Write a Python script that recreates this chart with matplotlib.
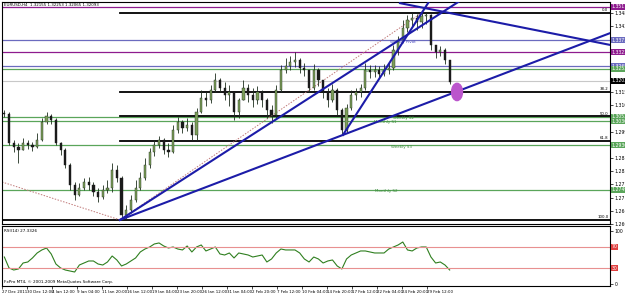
"""
EURUSD H4 chart with pivots, fibo levels, trend lines and RSI(14)
"""

import matplotlib.pyplot as plt
from matplotlib.patches import Ellipse
import numpy as np

# 12h candles (27 Dec 2011 .. 1 Mar 2012)
closes = [1.3065, 1.2944, 1.2928, 1.2915, 1.2944, 1.2936, 1.2928, 1.2957, 1.3032, 1.3057,
          1.3040, 1.2944, 1.2915, 1.2853, 1.2769, 1.2728, 1.2757, 1.2782, 1.2769, 1.2740,
          1.2720, 1.2749, 1.2757, 1.2832, 1.2799, 1.2645, 1.2665, 1.2707, 1.2757, 1.2799,
          1.2853, 1.2907, 1.2936, 1.2957, 1.2915, 1.2907, 1.2999, 1.3032, 1.3007, 1.3019,
          1.2978, 1.3074, 1.3132, 1.3123, 1.3165, 1.3207, 1.3173, 1.3144, 1.3157, 1.3074,
          1.3123, 1.3173, 1.3144, 1.3123, 1.3157, 1.3123, 1.3082, 1.3061, 1.3165, 1.3248,
          1.3265, 1.3282, 1.3290, 1.3257, 1.3248, 1.3173, 1.3248, 1.3207, 1.3157, 1.3123,
          1.3165, 1.3082, 1.2999, 1.3090, 1.3144, 1.3157, 1.3173, 1.3248, 1.3240, 1.3248,
          1.3232, 1.3248, 1.3257, 1.3332, 1.3373, 1.3423, 1.3457, 1.3465, 1.3448, 1.3473,
          1.3478, 1.3353, 1.3323, 1.3332, 1.3290, 1.3198]
highs = [1.3082, 1.3074, 1.2957, 1.2944, 1.2965, 1.2957, 1.2949, 1.2986, 1.3049, 1.3074,
         1.3065, 1.3049, 1.2949, 1.2924, 1.2861, 1.2782, 1.2778, 1.2799, 1.2803, 1.2782,
         1.2757, 1.2769, 1.2790, 1.2861, 1.2853, 1.2807, 1.2686, 1.2728, 1.2790, 1.2824,
         1.2882, 1.2924, 1.2957, 1.2974, 1.2965, 1.2944, 1.3019, 1.3053, 1.3040, 1.3049,
         1.3032, 1.3090, 1.3165, 1.3157, 1.3186, 1.3236, 1.3215, 1.3198, 1.3186, 1.3157,
         1.3132, 1.3207, 1.3190, 1.3173, 1.3182, 1.3165, 1.3132, 1.3103, 1.3186, 1.3269,
         1.3298, 1.3307, 1.3323, 1.3298, 1.3278, 1.3248, 1.3273, 1.3257, 1.3207, 1.3173,
         1.3190, 1.3173, 1.3090, 1.3107, 1.3165, 1.3173, 1.3190, 1.3278, 1.3269, 1.3269,
         1.3265, 1.3273, 1.3282, 1.3353, 1.3390, 1.3457, 1.3478, 1.3486, 1.3480, 1.3486,
         1.3484, 1.3482, 1.3353, 1.3348, 1.3340, 1.3290]
lows = [1.3053, 1.2936, 1.2907, 1.2861, 1.2915, 1.2919, 1.2911, 1.2924, 1.2953, 1.3024,
        1.3024, 1.2936, 1.2894, 1.2840, 1.2749, 1.2707, 1.2724, 1.2749, 1.2749, 1.2724,
        1.2699, 1.2711, 1.2736, 1.2740, 1.2782, 1.2624, 1.2628, 1.2653, 1.2699, 1.2749,
        1.2790, 1.2840, 1.2890, 1.2924, 1.2899, 1.2886, 1.2903, 1.2986, 1.2986, 1.2994,
        1.2957, 1.2957, 1.3069, 1.3099, 1.3111, 1.3157, 1.3157, 1.3123, 1.3099, 1.3040,
        1.3049, 1.3123, 1.3115, 1.3094, 1.3107, 1.3094, 1.3049, 1.3028, 1.3049, 1.3157,
        1.3236, 1.3248, 1.3261, 1.3236, 1.3223, 1.3157, 1.3165, 1.3182, 1.3132, 1.3094,
        1.3115, 1.3061, 1.2982, 1.2986, 1.3082, 1.3123, 1.3136, 1.3165, 1.3215, 1.3219,
        1.3215, 1.3223, 1.3232, 1.3248, 1.3311, 1.3365, 1.3407, 1.3432, 1.3415, 1.3423,
        1.3440, 1.3332, 1.3298, 1.3307, 1.3273, 1.3190]
first_open = 1.3069

rsi = [50.9, 30.2, 26.4, 28.3, 39.6, 41.5, 49.1, 58.5, 64.2, 67.9,
       56.6, 37.7, 30.2, 26.4, 24.5, 22.6, 35.8, 39.6, 43.4, 43.4,
       37.7, 35.8, 41.5, 52.8, 45.3, 34.0, 37.7, 43.4, 49.1, 60.4,
       66.0, 69.8, 75.5, 77.4, 71.7, 67.9, 69.8, 66.0, 64.2, 71.7,
       60.4, 69.8, 73.6, 62.3, 66.0, 69.8, 56.6, 54.7, 58.5, 49.1,
       58.5, 56.6, 54.7, 50.9, 52.8, 54.7, 41.5, 47.2, 58.5, 66.0,
       64.2, 64.2, 64.2, 58.5, 47.2, 41.5, 50.9, 47.2, 39.6, 43.4,
       45.3, 34.0, 28.3, 47.2, 54.7, 58.5, 62.3, 62.3, 60.4, 58.5,
       58.5, 58.5, 66.0, 69.8, 73.6, 79.2, 64.2, 62.3, 67.9, 69.8,
       69.8, 50.9, 39.6, 41.5, 35.8, 26.4]

date_labels = ["27 Dec 2011", "30 Dec 12:00", "4 Jan 12:00", "9 Jan 04:00", "11 Jan 20:00",
               "16 Jan 12:00", "19 Jan 04:00", "23 Jan 20:00", "26 Jan 12:00", "31 Jan 04:00",
               "2 Feb 20:00", "7 Feb 12:00", "10 Feb 04:00", "14 Feb 20:00", "17 Feb 12:00",
               "22 Feb 04:00", "24 Feb 20:00", "29 Feb 12:00"]

# pivot levels
pivot_prices = [1.3511, 1.3373, 1.3323, 1.3265, 1.3253, 1.3053, 1.3036, 1.2936, 1.2749]
pivot_kinds = ["mr", "wp", "mr", "mp", "s", "s", "s", "s", "s"]
pivot_names = {1.3373: "Weekly Pivot", 1.3253: "Weekly S1", 1.3053: "Weekly S2",
               1.3036: "Monthly S1", 1.2936: "Weekly S3", 1.2749: "Monthly S2"}
bid = 1.3203

fibo_low, fibo_high = 1.2624, 1.3486
fibo_levels = [0.0, 38.2, 50.0, 61.8, 100.0]

# trend lines as (bar, price) anchors, H4 bar units
trend_lines = [((75.5, 1.2624), (210.0, 1.3188)),
               ((75.5, 1.2624), (218.2, 1.2978)),
               ((218.2, 1.2978), (267.5, 1.3475))]
down_line = ((254.7, 1.3527), (389.1, 1.3353))
fibo_trend = [((0.0, 1.2782), (75.5, 1.2624)), ((75.5, 1.2624), (268.5, 1.3486))]
target = (291.2, 1.3157)

##########################
# PLOT
##########################
W, H = 625, 293
fig = plt.figure(figsize=(W / 100, H / 100), dpi=100)
fig.patch.set_facecolor("white")

def box(top, bottom, left=2, right=610):
    return [left / W, 1 - bottom / H, (right - left) / W, (bottom - top) / H]

ax = fig.add_axes(box(2, 224))
ax2 = fig.add_axes(box(226, 286))
xmax = 389.1

colors = {"mr": "#8e1b8e", "wp": "#6b6bbf", "mp": "#6b6bbf", "s": "#5aa55a"}
fs = 3.3

for a in (ax, ax2):
    a.set_xlim(0, xmax)
    for s in a.spines.values():
        s.set_linewidth(0.8)
    a.yaxis.tick_right()
    a.tick_params(axis="y", labelsize=fs, length=2, width=0.5, pad=1.5)

ax.set_ylim(1.2607, 1.35317)
ax.set_xticks([])
# scale ticks, skipping the ones hidden under the coloured price boxes
marked = pivot_prices + [bid]
yt = [v for v in np.arange(1.2607, 1.3535, 0.0055)
      if min(abs(v - m) for m in marked) > 0.0016]
ax.set_yticks(yt)
ax.set_yticklabels(["%.5f" % v for v in yt])

# pivot lines + labels on the scale
for p, k in zip(pivot_prices, pivot_kinds):
    ax.axhline(p, color=colors[k], lw=0.9, zorder=1)
ax.axhline(bid, color="#c8c8c8", lw=0.8, zorder=1)
for p, k in zip(pivot_prices + [bid], pivot_kinds + ["bid"]):
    fc = "black" if k == "bid" else colors[k]
    ax.text(xmax + 1.2, p, "%.5f" % p, fontsize=fs, color="white", va="center", ha="left",
            clip_on=False, bbox=dict(boxstyle="square,pad=0.15", fc=fc, ec="none"))

name_pos = {"Weekly Pivot": 248, "Weekly S1": 232, "Weekly S2": 250, "Monthly S1": 238,
            "Weekly S3": 249, "Monthly S2": 239}
name_dy = {"Weekly Pivot": -0.0008, "Weekly S1": -0.0008, "Weekly S2": -0.0005,
           "Monthly S1": -0.0006, "Weekly S3": -0.0008, "Monthly S2": -0.0006}
for p, name in pivot_names.items():
    c = "#4a4ac0" if "Pivot" in name else "#3a8a3a"
    ax.text(name_pos[name], p + name_dy[name], name, fontsize=fs - 0.4, color=c,
            va="center", ha="left")

# fibo retracement
rng = fibo_high - fibo_low
for lv in fibo_levels:
    p = fibo_high - rng * lv / 100
    x0 = 0 if lv == 100.0 else 75.5
    ax.plot([x0, xmax], [p, p], color="black", lw=1.3, zorder=2)
    ax.text(xmax - 1, p + 0.0003, "%.1f" % lv, fontsize=fs - 0.5, ha="right", va="bottom")

# candles
closes = np.array(closes)
opens = np.concatenate([[first_open], closes[:-1]])
xs = np.arange(len(closes)) * 3 + 1.5
up = closes >= opens
ax.vlines(xs, lows, highs, color="#1e2e1e", lw=0.6, zorder=3)
ax.bar(xs[up], closes[up] - opens[up], bottom=opens[up], width=1.4,
       color="#7d9f5a", edgecolor="#1e2e1e", lw=0.3, zorder=4)
ax.bar(xs[~up], opens[~up] - closes[~up], bottom=closes[~up], width=1.4,
       color="#1a1a1a", edgecolor="#1a1a1a", lw=0.3, zorder=4)

# trend lines (rays to the right)
for (b1, p1), (b2, p2) in trend_lines:
    k = (p2 - p1) / (b2 - b1)
    ax.plot([b1, xmax], [p1, p1 + k * (xmax - b1)], color="#1c1ca8", lw=1.5, zorder=5)
(b1, p1), (b2, p2) = down_line
ax.plot([b1, b2], [p1, p2], color="#1c1ca8", lw=1.5, zorder=5)
for (b1, p1), (b2, p2) in fibo_trend:
    ax.plot([b1, b2], [p1, p2], color="#c07878", lw=0.7, ls=(0, (1.5, 1.5)), zorder=2)

ax.add_patch(Ellipse(target, 7.0, 0.0072, color="#bb55cc", zorder=6))

ax.text(0.004, 0.997, "EURUSD,H4  1.32155 1.32253 1.32065 1.32093", transform=ax.transAxes,
        fontsize=fs - 0.4, va="top", ha="left")

# RSI panel
ax2.set_ylim(-3.8, 109.4)
ax2.plot(xs, rsi, color="#2f7f1f", lw=0.8)
for lv in (70, 30):
    ax2.axhline(lv, color="#e89090", lw=0.8)
    ax2.text(xmax + 1.2, lv, str(lv), fontsize=fs, color="white", va="center", ha="left",
             clip_on=False, bbox=dict(boxstyle="square,pad=0.15", fc="#e04040", ec="none"))
ax2.set_yticks([0, 100])
ax2.set_yticklabels(["0", "100"])
ax2.text(0.004, 0.95, "RSI(14) 27.3326", transform=ax2.transAxes, fontsize=fs - 0.3,
         va="top", ha="left")
ax2.text(0.004, 0.03, "FxPro MT4, \u00a9 2001-2009 MetaQuotes Software Corp.",
         transform=ax2.transAxes, fontsize=fs - 0.3, va="bottom", ha="left")

ticks = np.arange(len(date_labels)) * 16
ax2.set_xticks(ticks)
ax2.set_xticklabels(date_labels, fontsize=2.9, ha="left")
ax2.tick_params(axis="x", length=2, width=0.5, pad=0.8)

plt.savefig("out.png", dpi=100)
